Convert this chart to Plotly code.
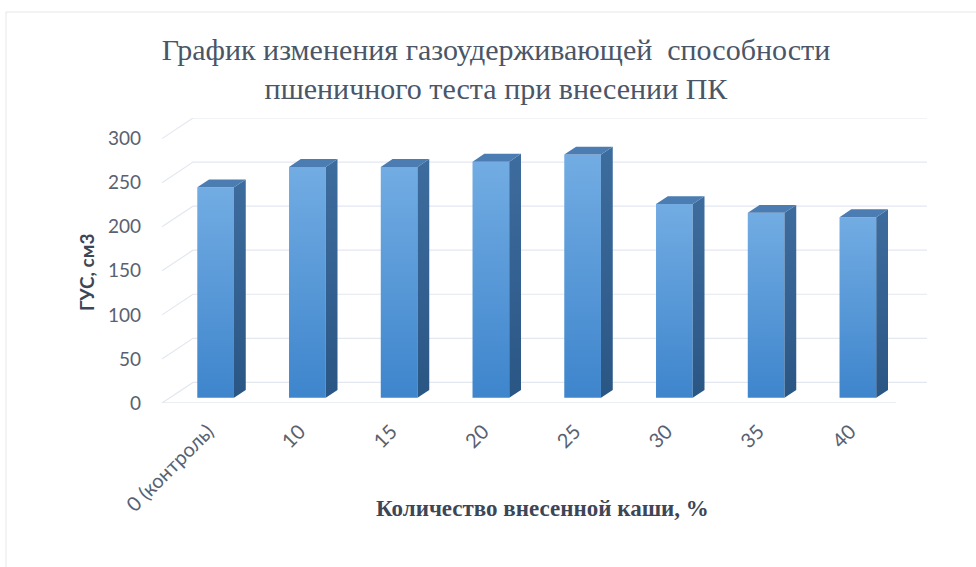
import plotly.graph_objects as go

# Data
categories = ["0 (контроль)", "10", "15", "20", "25", "30", "35", "40"]
gus_values = [239, 262, 262, 268, 276, 220, 210, 205]
y_ticks = [0, 50, 100, 150, 200, 250, 300]

title_text = "График изменения газоудерживающей  способности<br>пшеничного теста при внесении ПК"
x_title = "Количество внесенной каши, %"
y_title = "ГУС, см3"

# Figure geometry
W, H = 976, 567
M_L, M_R, M_T, M_B = 162, 49, 118, 164

# pseudo-3D projection: depth offset of the back wall in data units
DEPTH_X = 0.338
DEPTH_Y = 23.4
BAR_W = 0.40
BAR_D0 = 0.25   # front face depth (fraction of wall depth)
BAR_DD = 0.38   # bar depth (fraction of wall depth)

x_lo, x_hi = -0.5, len(categories) - 0.5
y_hi = max(y_ticks) + DEPTH_Y

GRID = "#E3E8EF"
FRONT_TOP, FRONT_BOT = "#72ACE3", "#3E85CC"
SIDE_TOP, SIDE_BOT = "#3D6C9E", "#2A5684"
TOP_COL = "#4C7DB2"

fig = go.Figure()

# back wall gridlines and left wall diagonals
gx, gy = [], []
for t in y_ticks:
    gx += [x_lo, x_lo + DEPTH_X, x_hi + DEPTH_X, None]
    gy += [t, t + DEPTH_Y, t + DEPTH_Y, None]
fig.add_trace(go.Scatter(x=gx, y=gy, mode="lines",
                         line=dict(color=GRID, width=1.2),
                         hoverinfo="skip", showlegend=False))
# floor front edge
fig.add_trace(go.Scatter(x=[x_lo, x_hi], y=[0, 0], mode="lines",
                         line=dict(color="#DADFE6", width=1.2),
                         hoverinfo="skip", showlegend=False))

ox = BAR_D0 * DEPTH_X
oy = BAR_D0 * DEPTH_Y
dx = BAR_DD * DEPTH_X
dy = BAR_DD * DEPTH_Y

top_x, top_y = [], []
for i, v in enumerate(gus_values):
    xl = i + ox - BAR_W / 2
    xr = i + ox + BAR_W / 2
    yb = oy
    yt = v + oy
    # front face
    fig.add_trace(go.Scatter(
        x=[xl, xr, xr, xl, xl], y=[yb, yb, yt, yt, yb],
        mode="lines", line=dict(width=0), fill="toself",
        fillgradient=dict(type="vertical",
                          colorscale=[[0, FRONT_BOT], [1, FRONT_TOP]]),
        name=categories[i], hoverinfo="skip", showlegend=False))
    # side face
    fig.add_trace(go.Scatter(
        x=[xr, xr + dx, xr + dx, xr, xr], y=[yb, yb + dy, yt + dy, yt, yb],
        mode="lines", line=dict(width=0), fill="toself",
        fillgradient=dict(type="vertical",
                          colorscale=[[0, SIDE_BOT], [1, SIDE_TOP]]),
        hoverinfo="skip", showlegend=False))
    top_x += [xl, xr, xr + dx, xl + dx, xl, None]
    top_y += [yt, yt, yt + dy, yt + dy, yt, None]

fig.add_trace(go.Scatter(x=top_x, y=top_y, mode="lines", line=dict(width=0),
                         fill="toself", fillcolor=TOP_COL,
                         hoverinfo="skip", showlegend=False))

pw = W - M_L - M_R
ph = H - M_T - M_B


def px_x(p):
    return (p - M_L) / pw


def px_y(p):
    return (H - M_B - p) / ph


fig.update_layout(
    width=W, height=H,
    margin=dict(l=M_L, r=M_R, t=M_T, b=M_B),
    paper_bgcolor="white", plot_bgcolor="white",
    showlegend=False,
    title=dict(text=title_text, x=496 / W, xanchor="center", xref="container",
               y=1 - 60 / H, yanchor="middle", yref="container",
               font=dict(family="Liberation Serif", size=30, color="#4A5668")),
    xaxis=dict(range=[x_lo, x_hi + DEPTH_X], tickmode="array",
               tickvals=list(range(len(categories))), ticktext=categories,
               tickangle=-45, showgrid=False, zeroline=False, showline=False,
               ticks="", ticklabelstandoff=12,
               tickfont=dict(family="Lato", size=20, color="#596170")),
    yaxis=dict(range=[0, y_hi], tickmode="array", tickvals=y_ticks,
               showgrid=False, zeroline=False, showline=False, ticks="",
               ticklabelstandoff=20,
               tickfont=dict(family="Lato", size=19, color="#596170")),
    annotations=[
        dict(text=y_title, x=px_x(86), y=px_y(273), xref="paper", yref="paper",
             textangle=-90, showarrow=False, xanchor="center", yanchor="middle",
             font=dict(family="Lato", size=19, color="#3C4656", weight="bold")),
        dict(text=x_title, x=px_x(542), y=px_y(508), xref="paper", yref="paper",
             showarrow=False, xanchor="center", yanchor="middle",
             font=dict(family="Liberation Serif", size=23, color="#3C4656",
                       weight="bold")),
    ],
    shapes=[
        dict(type="rect", xref="paper", yref="paper",
             x0=px_x(6), y0=px_y(H + 5), x1=px_x(W + 5), y1=px_y(12),
             line=dict(color="#E2E6EA", width=1), fillcolor="rgba(0,0,0,0)",
             layer="below"),
    ],
)

fig.write_html("out.html")
